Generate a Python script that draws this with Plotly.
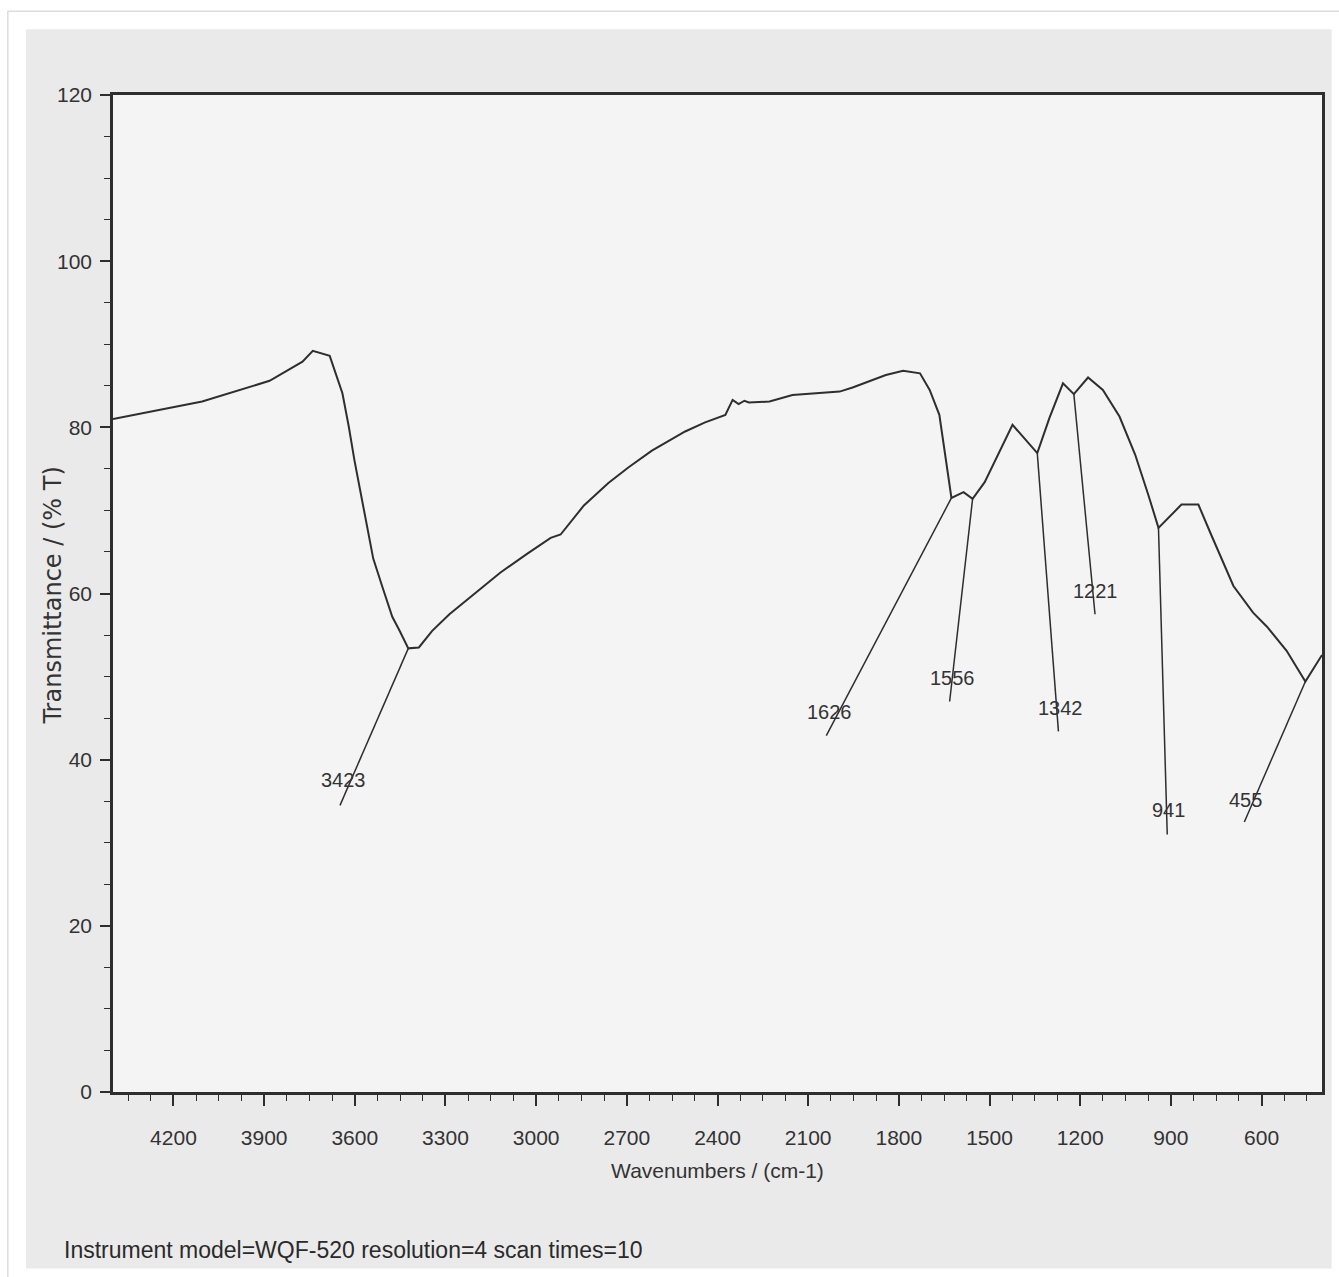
import plotly.graph_objects as go

# FTIR spectrum: wavenumber (cm-1) vs transmittance (%T)
wavenumber = [4400, 4105, 3882, 3773, 3739, 3683, 3641, 3620, 3601, 3580,
              3558, 3539, 3507, 3476, 3453, 3423, 3388, 3344, 3287, 3210,
              3119, 3029, 2952, 2919, 2842, 2761, 2694, 2617, 2507, 2441,
              2374, 2350, 2330, 2311, 2296, 2228, 2152, 1996, 1953, 1843,
              1786, 1730, 1698, 1666, 1626, 1586, 1556, 1516, 1424, 1342,
              1302, 1257, 1221, 1174, 1125, 1070, 1018, 974, 941, 865,
              809, 767, 693, 628, 582, 517, 455, 400]
transmittance = [81.0, 83.1, 85.6, 87.9, 89.2, 88.6, 84.1, 80.1, 76.0, 71.9,
                 67.9, 64.2, 60.6, 57.2, 55.6, 53.4, 53.5, 55.5, 57.5, 59.8,
                 62.5, 64.8, 66.7, 67.1, 70.6, 73.3, 75.2, 77.2, 79.5, 80.6,
                 81.5, 83.3, 82.8, 83.2, 83.0, 83.1, 83.9, 84.3, 84.8, 86.3,
                 86.8, 86.5, 84.5, 81.5, 71.5, 72.2, 71.4, 73.4, 80.3, 76.9,
                 81.1, 85.3, 84.0, 86.0, 84.5, 81.3, 76.7, 71.8, 67.9, 70.7,
                 70.7, 67.1, 60.9, 57.7, 56.0, 53.1, 49.4, 52.6]

# Labelled bands
peak_labels = [3423, 1626, 1556, 1342, 1221, 941, 455]

# Leader-line tips and label anchors (data coordinates)
leader_tip_x = [3649, 2040, 1632, 1272, 1151, 912, 657]
leader_tip_y = [34.5, 42.9, 47.0, 43.4, 57.5, 31.0, 32.5]
label_x = [3638, 2029, 1624, 1264, 1150, 908, 653]
label_y = [37.5, 45.7, 49.8, 46.2, 60.3, 34.0, 35.2]

x_ticks = [4200, 3900, 3600, 3300, 3000, 2700, 2400, 2100, 1800, 1500, 1200, 900, 600]
y_ticks = [0, 20, 40, 60, 80, 100, 120]

INK = "#2e2e2e"
SANS = "Liberation Sans, Arial, sans-serif"

fig = go.Figure()

fig.add_trace(go.Scatter(
    x=wavenumber, y=transmittance, mode="lines",
    line=dict(color=INK, width=2), hoverinfo="skip", showlegend=False,
))

# leader lines from each labelled band down to its label
for pk, tx, ty in zip(peak_labels, leader_tip_x, leader_tip_y):
    t_at_peak = transmittance[wavenumber.index(pk)]
    fig.add_trace(go.Scatter(
        x=[pk, tx], y=[t_at_peak, ty], mode="lines",
        line=dict(color=INK, width=1.5), hoverinfo="skip", showlegend=False,
    ))

for pk, lx, ly in zip(peak_labels, label_x, label_y):
    fig.add_annotation(
        x=lx, y=ly, xref="x", yref="y", text=str(pk), showarrow=False,
        font=dict(family=SANS, size=20, color="#333333"),
        xanchor="center", yanchor="middle",
    )

# y-axis title, set as rotated text left of the tick labels
fig.add_annotation(
    xref="paper", yref="paper", x=-0.0496, y=0.498,
    text="Transmittance / (% T)", textangle=-90, showarrow=False,
    xanchor="center", yanchor="middle",
    font=dict(family="DejaVu Sans, Verdana, sans-serif", size=24, color="#333333"),
)

fig.add_annotation(
    xref="paper", yref="paper", x=-0.042, y=-0.158,
    text="Instrument model=WQF-520 resolution=4 scan times=10",
    showarrow=False, xanchor="left", yanchor="middle",
    font=dict(family=SANS, size=23, color="#2a2a2a"),
)

# scanned page background
fig.add_shape(type="rect", xref="paper", yref="paper",
              x0=-0.072, x1=1.008, y0=-0.177, y1=1.066,
              fillcolor="#eaeaea", line=dict(width=0), layer="below")
fig.add_shape(type="rect", xref="paper", yref="paper",
              x0=0, x1=1, y0=0, y1=1,
              fillcolor="#f4f4f4", line=dict(width=0), layer="below")
fig.add_shape(type="rect", xref="paper", yref="paper",
              x0=-0.087, x1=1.03, y0=-0.2, y1=1.084,
              fillcolor="rgba(0,0,0,0)", line=dict(color="#dcdcdc", width=1.5),
              layer="below")

fig.update_layout(
    width=1339, height=1277,
    margin=dict(l=113, r=17, t=95, b=185),
    paper_bgcolor="#ffffff",
    plot_bgcolor="#f4f4f4",
    font=dict(family=SANS, color="#333333"),
    xaxis=dict(
        range=[4400, 400], tickmode="array", tickvals=x_ticks,
        ticktext=[str(v) for v in x_ticks],
        ticks="outside", ticklen=11, tickwidth=1.5, tickcolor=INK,
        minor=dict(tickmode="linear", tick0=600, dtick=75, ticks="outside",
                   ticklen=6, tickwidth=1.2, tickcolor=INK),
        showline=True, mirror=True, linecolor=INK, linewidth=2.5,
        showgrid=False, zeroline=False,
        tickfont=dict(family=SANS, size=21, color="#333333"),
        ticklabelstandoff=14,
        title=dict(text="Wavenumbers / (cm-1)", standoff=16,
                   font=dict(family=SANS, size=21, color="#333333")),
    ),
    yaxis=dict(
        range=[0, 120], tickmode="array", tickvals=y_ticks,
        ticks="outside", ticklen=10, tickwidth=1.5, tickcolor=INK,
        minor=dict(tickmode="linear", tick0=0, dtick=5, ticks="outside",
                   ticklen=6, tickwidth=1.2, tickcolor=INK),
        showline=True, mirror=True, linecolor=INK, linewidth=2.5,
        showgrid=False, zeroline=False,
        tickfont=dict(family=SANS, size=21, color="#333333"),
        ticklabelstandoff=4,
    ),
)

fig.write_html("out.html")
